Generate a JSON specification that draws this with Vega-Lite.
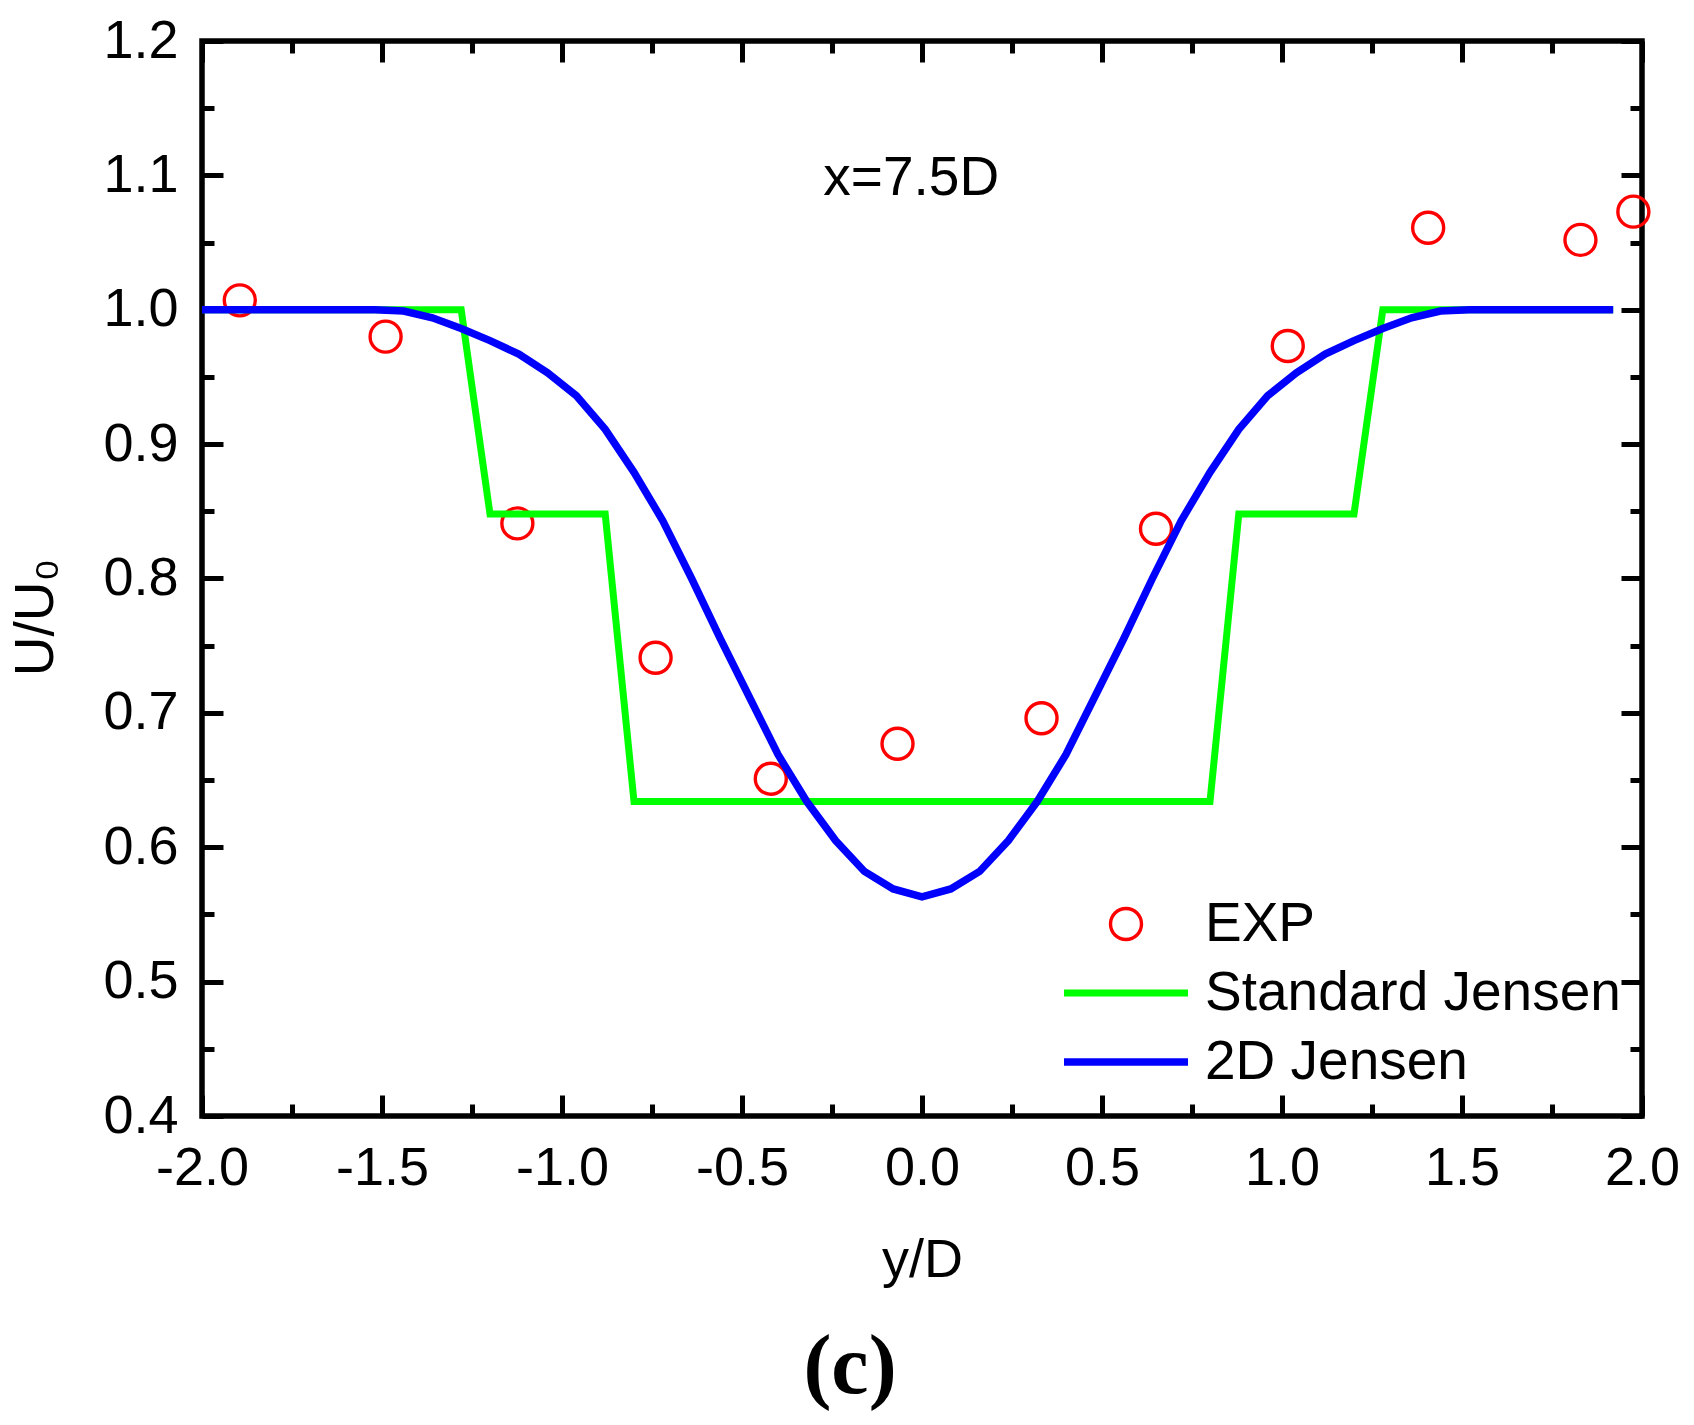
{
  "$schema": "https://vega.github.io/schema/vega-lite/v6.json",
  "width": 1440,
  "height": 1075,
  "autosize": {"type": "none"},
  "padding": {"left": 202, "top": 41, "right": 52, "bottom": 309},
  "background": "white",
  "title": {
    "text": "(c)",
    "orient": "bottom",
    "anchor": "middle",
    "font": "Liberation Serif",
    "fontWeight": "bold",
    "fontSize": 84,
    "color": "black",
    "dx": -72,
    "offset": 40
  },
  "datasets": {
    "exp": [
      {"series": "EXP", "x": -1.895, "y": 1.007},
      {"series": "EXP", "x": -1.49, "y": 0.980},
      {"series": "EXP", "x": -1.124, "y": 0.841},
      {"series": "EXP", "x": -0.74, "y": 0.741},
      {"series": "EXP", "x": -0.42, "y": 0.651},
      {"series": "EXP", "x": -0.068, "y": 0.677},
      {"series": "EXP", "x": 0.332, "y": 0.696},
      {"series": "EXP", "x": 0.65, "y": 0.837},
      {"series": "EXP", "x": 1.016, "y": 0.973},
      {"series": "EXP", "x": 1.406, "y": 1.061},
      {"series": "EXP", "x": 1.829, "y": 1.052},
      {"series": "EXP", "x": 1.976, "y": 1.073}
    ],
    "standard": [
      {"series": "Standard Jensen", "x": -2.0, "y": 1.0},
      {"series": "Standard Jensen", "x": -1.28, "y": 1.0},
      {"series": "Standard Jensen", "x": -1.20, "y": 0.848},
      {"series": "Standard Jensen", "x": -0.88, "y": 0.848},
      {"series": "Standard Jensen", "x": -0.80, "y": 0.634},
      {"series": "Standard Jensen", "x": 0.80, "y": 0.634},
      {"series": "Standard Jensen", "x": 0.88, "y": 0.848},
      {"series": "Standard Jensen", "x": 1.20, "y": 0.848},
      {"series": "Standard Jensen", "x": 1.28, "y": 1.0},
      {"series": "Standard Jensen", "x": 1.92, "y": 1.0}
    ],
    "jensen2d": [
      {"series": "2D Jensen", "x": -2.0, "y": 1.0},
      {"series": "2D Jensen", "x": -1.52, "y": 1.0},
      {"series": "2D Jensen", "x": -1.44, "y": 0.999},
      {"series": "2D Jensen", "x": -1.36, "y": 0.994},
      {"series": "2D Jensen", "x": -1.28, "y": 0.986},
      {"series": "2D Jensen", "x": -1.20, "y": 0.977},
      {"series": "2D Jensen", "x": -1.12, "y": 0.967},
      {"series": "2D Jensen", "x": -1.04, "y": 0.953},
      {"series": "2D Jensen", "x": -0.96, "y": 0.936},
      {"series": "2D Jensen", "x": -0.88, "y": 0.911},
      {"series": "2D Jensen", "x": -0.80, "y": 0.879},
      {"series": "2D Jensen", "x": -0.72, "y": 0.843},
      {"series": "2D Jensen", "x": -0.64, "y": 0.800},
      {"series": "2D Jensen", "x": -0.56, "y": 0.755},
      {"series": "2D Jensen", "x": -0.48, "y": 0.712},
      {"series": "2D Jensen", "x": -0.40, "y": 0.669},
      {"series": "2D Jensen", "x": -0.32, "y": 0.634},
      {"series": "2D Jensen", "x": -0.24, "y": 0.605},
      {"series": "2D Jensen", "x": -0.16, "y": 0.582},
      {"series": "2D Jensen", "x": -0.08, "y": 0.569},
      {"series": "2D Jensen", "x": 0.0, "y": 0.563},
      {"series": "2D Jensen", "x": 0.08, "y": 0.569},
      {"series": "2D Jensen", "x": 0.16, "y": 0.582},
      {"series": "2D Jensen", "x": 0.24, "y": 0.605},
      {"series": "2D Jensen", "x": 0.32, "y": 0.634},
      {"series": "2D Jensen", "x": 0.40, "y": 0.669},
      {"series": "2D Jensen", "x": 0.48, "y": 0.712},
      {"series": "2D Jensen", "x": 0.56, "y": 0.755},
      {"series": "2D Jensen", "x": 0.64, "y": 0.800},
      {"series": "2D Jensen", "x": 0.72, "y": 0.843},
      {"series": "2D Jensen", "x": 0.80, "y": 0.879},
      {"series": "2D Jensen", "x": 0.88, "y": 0.911},
      {"series": "2D Jensen", "x": 0.96, "y": 0.936},
      {"series": "2D Jensen", "x": 1.04, "y": 0.953},
      {"series": "2D Jensen", "x": 1.12, "y": 0.967},
      {"series": "2D Jensen", "x": 1.20, "y": 0.977},
      {"series": "2D Jensen", "x": 1.28, "y": 0.986},
      {"series": "2D Jensen", "x": 1.36, "y": 0.994},
      {"series": "2D Jensen", "x": 1.44, "y": 0.999},
      {"series": "2D Jensen", "x": 1.52, "y": 1.0},
      {"series": "2D Jensen", "x": 1.92, "y": 1.0}
    ],
    "note": [
      {"x": -0.03, "y": 1.098, "label": "x=7.5D"}
    ]
  },
  "layer": [
    {
      "data": {"name": "exp"},
      "mark": {"type": "point", "filled": false, "size": 15376, "opacity": 1},
      "encoding": {
        "x": {
          "field": "x", "type": "quantitative",
          "scale": {"domain": [-2, 2], "nice": false, "zero": false},
          "axis": {
            "orient": "bottom",
            "values": [-2, -1.5, -1, -0.5, 0, 0.5, 1, 1.5, 2],
            "labelExpr": "replace(format(datum.value, '.1f'), '\u2212', '-')",
            "labelFlush": false,
            "title": "y/D",
            "ticks": true, "tickSize": -21, "tickWidth": 5,
            "domain": false,
            "labelFontSize": 54, "labelPadding": 46,
            "titleFontSize": 54, "titlePadding": 38
          }
        },
        "y": {
          "field": "y", "type": "quantitative",
          "scale": {"domain": [0.4, 1.2], "nice": false, "zero": false},
          "axis": {
            "orient": "left",
            "values": [0.4, 0.5, 0.6, 0.7, 0.8, 0.9, 1.0, 1.1, 1.2],
            "format": ".1f",
            "labelFlush": false,
            "title": "U/U\u2080",
            "titleY": 576,
            "ticks": true, "tickSize": -21, "tickWidth": 5,
            "domain": false,
            "labelFontSize": 54, "labelPadding": 45,
            "titleFontSize": 55, "titlePadding": 38
          }
        },
        "color": {
          "field": "series", "type": "nominal",
          "scale": {"domain": ["EXP", "Standard Jensen", "2D Jensen"], "range": ["#ff0000", "#00ff00", "#0000ff"]},
          "legend": {
            "title": null, "orient": "none", "legendX": 858, "legendY": 853,
            "padding": 0, "labelFontSize": 55, "labelFont": "Liberation Sans", "labelColor": "black",
            "labelLimit": 0, "labelOffset": 13, "symbolSize": 15376,
            "symbolFillColor": "transparent", "clipHeight": 60, "rowPadding": 9
          }
        },
        "shape": {
          "field": "series", "type": "nominal",
          "scale": {
            "domain": ["EXP", "Standard Jensen", "2D Jensen"],
            "range": [
              "M-0.25,0A0.25,0.25,0,1,1,0.25,0A0.25,0.25,0,1,1,-0.25,0Z",
              "M-1,0L1,0",
              "M-1,0L1,0"
            ]
          },
          "legend": {
            "title": null, "orient": "none", "legendX": 858, "legendY": 853,
            "padding": 0, "labelFontSize": 55, "labelFont": "Liberation Sans", "labelColor": "black",
            "labelLimit": 0, "labelOffset": 13, "symbolSize": 15376,
            "symbolFillColor": "transparent", "clipHeight": 60, "rowPadding": 9
          }
        },
        "strokeWidth": {
          "field": "series", "type": "nominal",
          "scale": {"type": "ordinal", "domain": ["EXP", "Standard Jensen", "2D Jensen"], "range": [3.4, 7, 7.5]},
          "legend": {
            "title": null, "orient": "none", "legendX": 858, "legendY": 853,
            "padding": 0, "labelFontSize": 55, "labelFont": "Liberation Sans", "labelColor": "black",
            "labelLimit": 0, "labelOffset": 13, "symbolSize": 15376,
            "symbolFillColor": "transparent", "clipHeight": 60, "rowPadding": 9
          }
        }
      }
    },
    {
      "data": {"name": "standard"},
      "mark": {"type": "line", "strokeWidth": 7, "strokeJoin": "miter"},
      "encoding": {
        "x": {
          "field": "x", "type": "quantitative",
          "scale": {"domain": [-2, 2], "nice": false, "zero": false},
          "axis": {
            "orient": "bottom", "values": [-1.75, -1.25, -0.75, -0.25, 0.25, 0.75, 1.25, 1.75],
            "labels": false, "domain": false, "title": null, "tickSize": -12, "tickWidth": 5
          }
        },
        "y": {
          "field": "y", "type": "quantitative",
          "scale": {"domain": [0.4, 1.2], "nice": false, "zero": false},
          "axis": {
            "orient": "left", "values": [0.45, 0.55, 0.65, 0.75, 0.85, 0.95, 1.05, 1.15],
            "labels": false, "domain": false, "title": null, "tickSize": -12, "tickWidth": 5
          }
        },
        "color": {"field": "series", "type": "nominal"}
      }
    },
    {
      "data": {"name": "jensen2d"},
      "mark": {"type": "line", "strokeWidth": 7.5},
      "encoding": {
        "x": {
          "field": "x", "type": "quantitative",
          "scale": {"domain": [-2, 2], "nice": false, "zero": false},
          "axis": {
            "orient": "top", "values": [-2, -1.5, -1, -0.5, 0, 0.5, 1, 1.5, 2],
            "labels": false, "domain": false, "title": null, "tickSize": -21, "tickWidth": 5
          }
        },
        "y": {
          "field": "y", "type": "quantitative",
          "scale": {"domain": [0.4, 1.2], "nice": false, "zero": false},
          "axis": {
            "orient": "right", "values": [0.4, 0.5, 0.6, 0.7, 0.8, 0.9, 1.0, 1.1, 1.2],
            "labels": false, "domain": false, "title": null, "tickSize": -21, "tickWidth": 5
          }
        },
        "color": {"field": "series", "type": "nominal"}
      }
    },
    {
      "data": {"name": "note"},
      "mark": {"type": "text", "font": "Liberation Sans", "fontSize": 55, "color": "black", "align": "center", "baseline": "middle"},
      "encoding": {
        "x": {
          "field": "x", "type": "quantitative",
          "scale": {"domain": [-2, 2], "nice": false, "zero": false},
          "axis": {
            "orient": "top", "values": [-1.75, -1.25, -0.75, -0.25, 0.25, 0.75, 1.25, 1.75],
            "labels": false, "domain": false, "title": null, "tickSize": -12, "tickWidth": 5
          }
        },
        "y": {
          "field": "y", "type": "quantitative",
          "scale": {"domain": [0.4, 1.2], "nice": false, "zero": false},
          "axis": {
            "orient": "right", "values": [0.45, 0.55, 0.65, 0.75, 0.85, 0.95, 1.05, 1.15],
            "labels": false, "domain": false, "title": null, "tickSize": -12, "tickWidth": 5
          }
        },
        "text": {"field": "label"}
      }
    }
  ],
  "resolve": {"axis": {"x": "independent", "y": "independent"}},
  "config": {
    "view": {"stroke": "black", "strokeWidth": 5.5},
    "axis": {
      "grid": false,
      "labelFont": "Liberation Sans",
      "titleFont": "Liberation Sans",
      "labelColor": "black",
      "titleColor": "black",
      "tickColor": "black",
      "titleFontWeight": "normal"
    }
  }
}
